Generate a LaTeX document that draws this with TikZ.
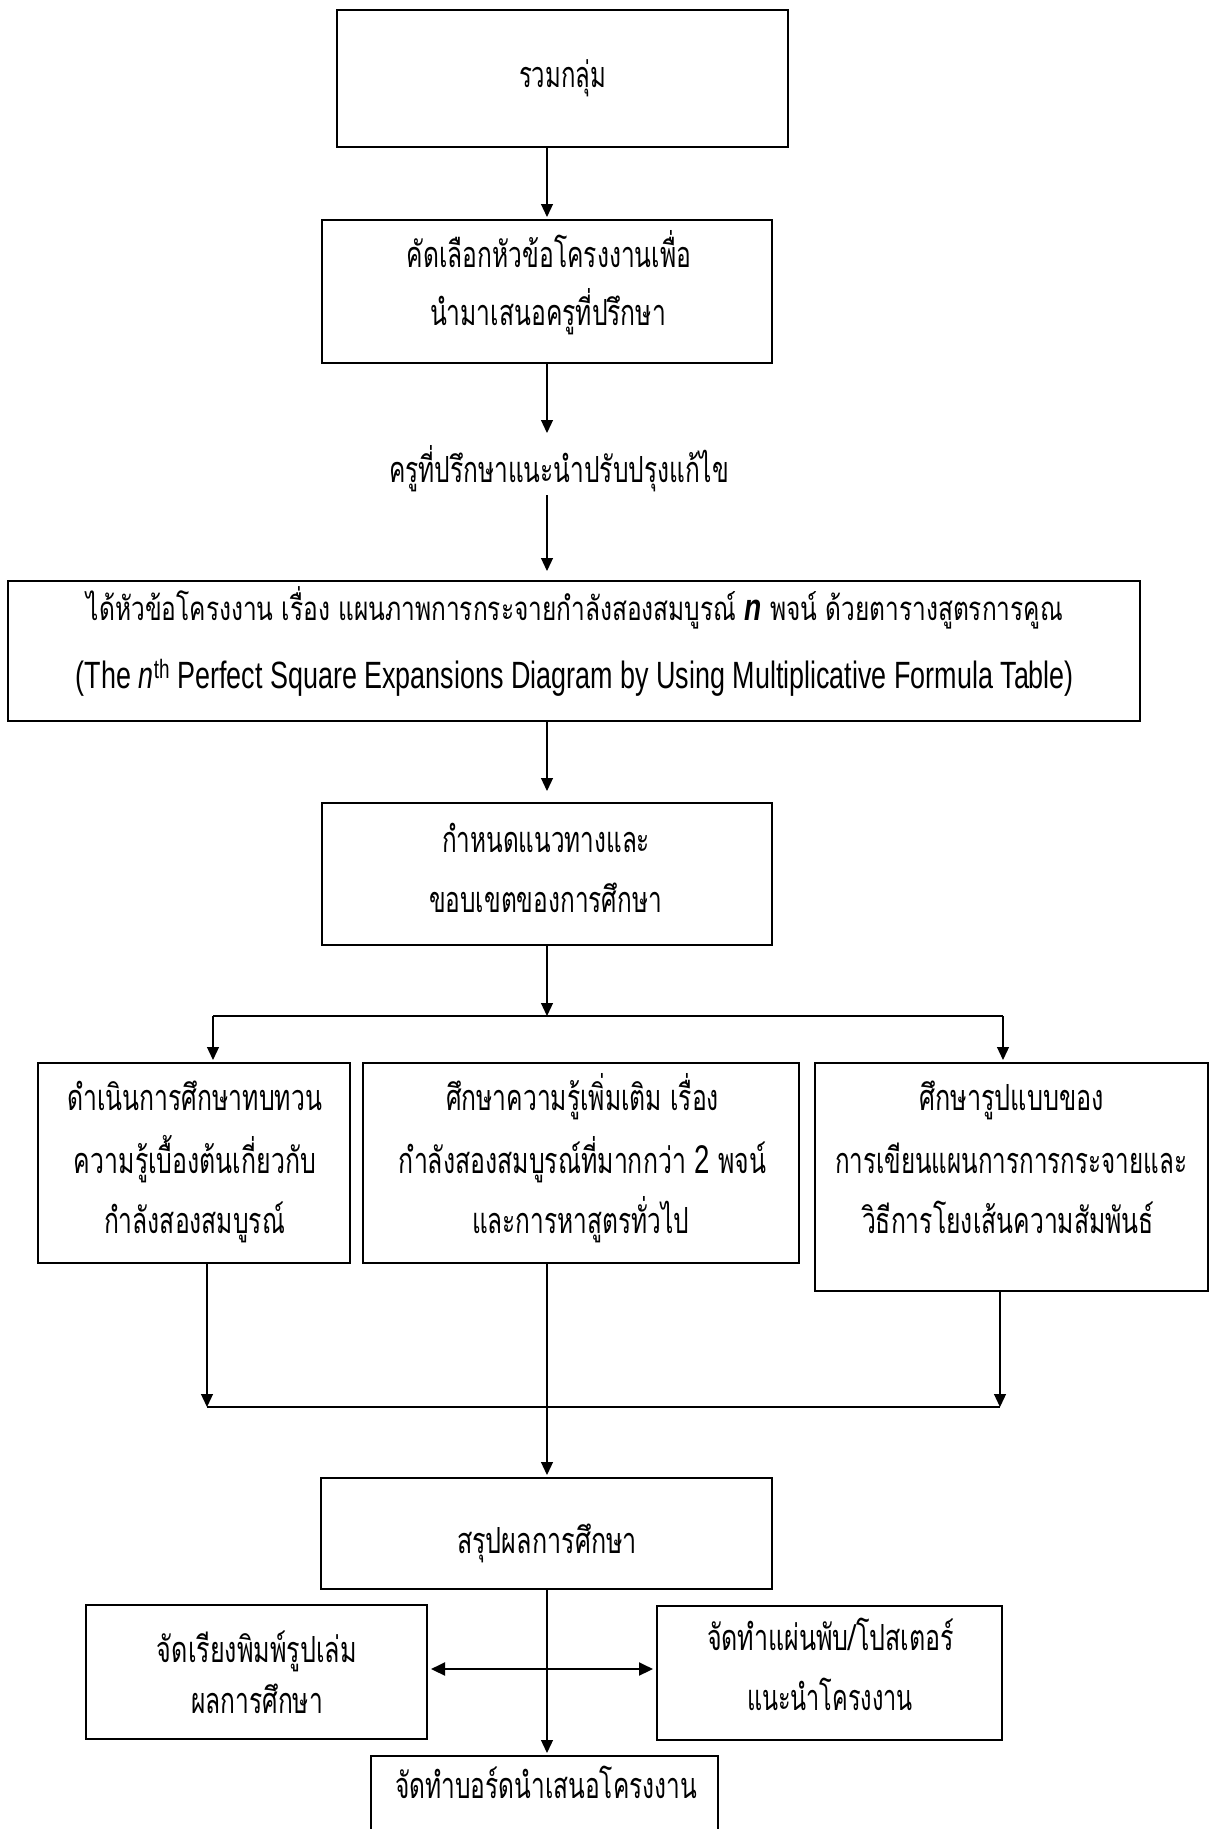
\documentclass[tikz,border=0pt]{standalone}
\usepackage{fontspec}
\usepackage{graphicx}
\newfontfamily\thai[Script=Thai]{Loma}
\newfontfamily\eng{Liberation Sans}
\usetikzlibrary{arrows.meta}
\newcommand\fitw[2]{\resizebox{#1pt}{\height}{#2}}
\tikzset{
  box/.style={draw, rectangle, line width=1.6pt, inner sep=0pt, outer sep=0pt},
  txt/.style={anchor=base, inner sep=0pt, outer sep=0pt, font=\thai\fontsize{36}{40}\selectfont},
  conn/.style={line width=1.2pt},
  arr/.style={conn, -{Triangle[length=13pt,width=12pt]}},
  dbl/.style={line width=2pt, {Triangle[length=14pt,width=13pt]}-{Triangle[length=14pt,width=13pt]}}
}
\begin{document}
\begin{tikzpicture}[x=1pt,y=-1pt]
\useasboundingbox (0,0) rectangle (1209,1829);
% boxes
\node[box, minimum width=451pt, minimum height=137pt] (b1) at (562.5,78.5) {};
\node[box, minimum width=450pt, minimum height=143pt] (b2) at (547,291.5) {};
\node[box, minimum width=1132pt, minimum height=140pt] (b3) at (574,651) {};
\node[box, minimum width=450pt, minimum height=142pt] (b4) at (547,874) {};
\node[box, minimum width=312pt, minimum height=200pt] (b5) at (194,1163) {};
\node[box, minimum width=436pt, minimum height=200pt] (b6) at (581,1163) {};
\node[box, minimum width=393pt, minimum height=228pt] (b7) at (1011.5,1177) {};
\node[box, minimum width=451pt, minimum height=111pt] (b8) at (546.5,1533.5) {};
\node[box, minimum width=341pt, minimum height=134pt] (b9) at (256.5,1672) {};
\node[box, minimum width=345pt, minimum height=134pt] (b10) at (829.5,1673) {};
\node[box, minimum width=347pt, minimum height=120pt] (b11) at (544.5,1816) {};
% texts
\node[txt] (b1t1) at (562.5,87) {\fitw{87}{รวมกลุ่ม}};
\node[txt] (b2t1) at (549,267) {\fitw{284}{คัดเลือกหัวข้อโครงงานเพื่อ}};
\node[txt] (b2t2) at (548,325) {\fitw{236}{นำมาเสนอครูที่ปรึกษา}};
\node[txt] (t3) at (559,482) {\fitw{340}{ครูที่ปรึกษาแนะนำปรับปรุงแก้ไข}};
\node[txt, font=\thai\fontsize{33}{36}\selectfont] (b3t1) at (575,620) {\fitw{976}{ได้หัวข้อโครงงาน เรื่อง แผนภาพการกระจายกำลังสองสมบูรณ์ {\eng\bfseries\itshape\fontsize{38}{40}\selectfont n} พจน์ ด้วยตารางสูตรการคูณ}};
\node[txt, font=\eng\fontsize{38}{42}\selectfont] (b3t2) at (575,688) {\fitw{998}{(The \textit{n}\textsuperscript{th} Perfect Square Expansions Diagram by Using Multiplicative Formula Table)}};
\node[txt] (b4t1) at (546,852) {\fitw{208}{กำหนดแนวทางและ}};
\node[txt] (b4t2) at (545.5,912) {\fitw{233}{ขอบเขตของการศึกษา}};
\node[txt] (b5t1) at (194.5,1110) {\fitw{255}{ดำเนินการศึกษาทบทวน}};
\node[txt] (b5t2) at (195,1173) {\fitw{242}{ความรู้เบื้องต้นเกี่ยวกับ}};
\node[txt] (b5t3) at (194.5,1233) {\fitw{181}{กำลังสองสมบูรณ์}};
\node[txt] (b6t1) at (582.5,1110) {\fitw{273}{ศึกษาความรู้เพิ่มเติม เรื่อง}};
\node[txt] (b6t2) at (582.5,1173) {\fitw{367}{กำลังสองสมบูรณ์ที่มากกว่า {\eng\fontsize{40}{42}\selectfont 2} พจน์}};
\node[txt] (b6t3) at (580.5,1233) {\fitw{217}{และการหาสูตรทั่วไป}};
\node[txt] (b7t1) at (1011.5,1110) {\fitw{185}{ศึกษารูปแบบของ}};
\node[txt] (b7t2) at (1011,1173) {\fitw{352}{การเขียนแผนการการกระจายและ}};
\node[txt] (b7t3) at (1008,1233) {\fitw{292}{วิธีการโยงเส้นความสัมพันธ์}};
\node[txt] (b8t1) at (547,1553) {\fitw{180}{สรุปผลการศึกษา}};
\node[txt] (b9t1) at (257,1662) {\fitw{200}{จัดเรียงพิมพ์รูปเล่ม}};
\node[txt] (b9t2) at (257,1713) {\fitw{132}{ผลการศึกษา}};
\node[txt] (b10t1) at (830.5,1650) {\fitw{247}{จัดทำแผ่นพับ/โปสเตอร์}};
\node[txt] (b10t2) at (830,1710) {\fitw{166}{แนะนำโครงงาน}};
\node[txt] (b11t1) at (546,1798) {\fitw{302}{จัดทำบอร์ดนำเสนอโครงงาน}};
% coordinates
\coordinate (sp) at (547,0);
\coordinate (t3top) at (547,433);
\coordinate (t3bot) at (547,495);
\coordinate (sj) at (547,1016);
\coordinate (sl) at (213,1016);
\coordinate (sr) at (1003,1016);
\coordinate (jl) at (207,1407);
\coordinate (jr) at (1000,1407);
\coordinate (ya) at (0,1669);
% connectors
\draw[arr, shorten >=3pt] (b1.south -| sp) -- (b2.north -| sp);
\draw[arr] (b2.south -| sp) -- (t3top);
\draw[arr, shorten >=10pt] (t3bot) -- (b3.north -| sp);
\draw[arr, shorten >=12pt] (b3.south -| sp) -- (b4.north -| sp);
\draw[arr] (b4.south -| sp) -- (sj);
\draw[conn] (sl) -- (sr);
\draw[arr, shorten >=3pt] (sl) -- (sl |- b5.north);
\draw[arr, shorten >=3pt] (sr) -- (sr |- b7.north);
\draw[arr] (b5.south -| jl) -- (jl);
\draw[arr] (b7.south -| jr) -- (jr);
\draw[conn] (jl) -- (jr);
\draw[arr, shorten >=3pt] (b6.south -| sp) -- (b8.north -| sp);
\draw[arr, shorten >=3pt] (b8.south -| sp) -- (b11.north -| sp);
\draw[dbl, shorten <=4pt, shorten >=4pt] (b9.east |- ya) -- (b10.west |- ya);
\end{tikzpicture}
\end{document}
